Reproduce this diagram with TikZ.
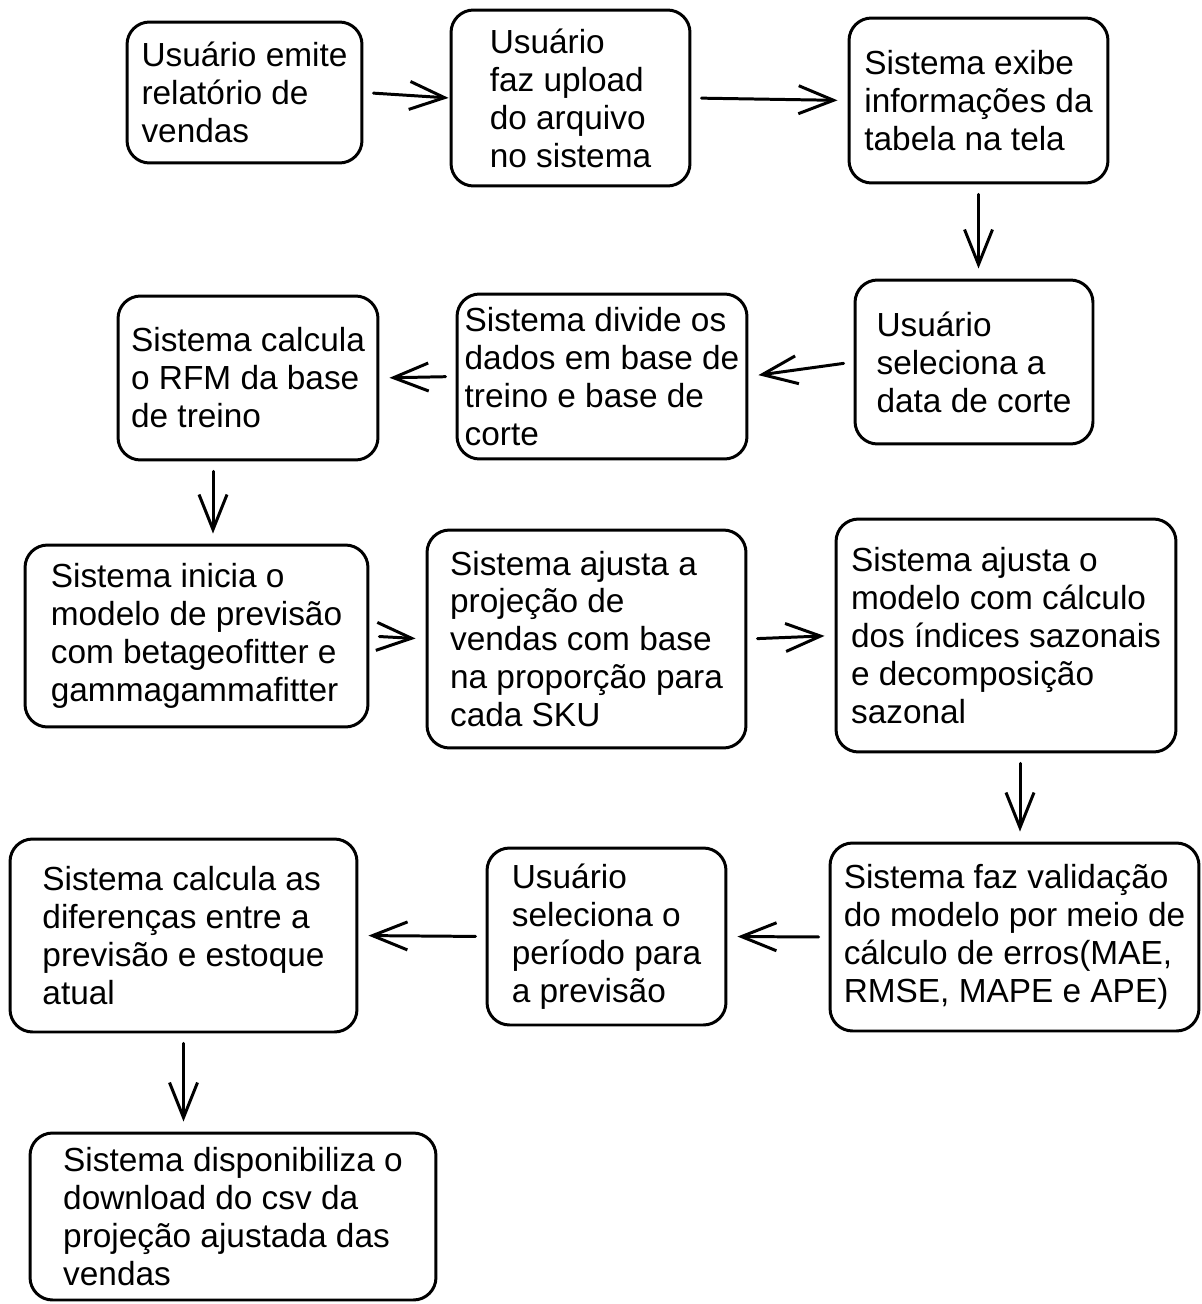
\documentclass[tikz,border=0pt]{standalone}
\usepackage{fontspec}
\setmainfont{Liberation Sans}
\usetikzlibrary{arrows.meta}
\begin{document}
\begin{tikzpicture}[x=0.02cm,y=-0.02cm,
  box/.style={draw=black, line width=1.7pt, rounded corners=0.45cm, align=left,
    inner sep=0pt, font=\fontsize{19pt}{21.6pt}\selectfont},
  arr/.style={draw=black, line width=1.7pt, line cap=round,
    -{Straight Barb[length=0.7cm,width=0.56cm,line width=1.7pt]},
    shorten <=0.2cm, shorten >=0.2cm}]
\fill[white] (0,0) rectangle (1201,1304);
\useasboundingbox (0,0) rectangle (1201,1304);

\node[box, minimum width=4.70cm, minimum height=2.82cm] (n1) at (244.5,92.5)
  {Usuário emite\\relatório de\\vendas};
\node[box, minimum width=4.78cm, minimum height=3.52cm] (n2) at (570.5,98)
  {Usuário\\faz upload\\do arquivo\\no sistema};
\node[box, minimum width=5.18cm, minimum height=3.30cm] (n3) at (978.5,100.5)
  {Sistema exibe\\informações da\\tabela na tela};
\node[box, minimum width=4.76cm, minimum height=3.28cm] (n4) at (974,362)
  {Usuário\\seleciona a\\data de corte};
\node[box, minimum width=5.80cm, minimum height=3.30cm] (n5) at (602,376.5)
  {Sistema divide os\\dados em base de\\treino e base de\\corte};
\node[box, minimum width=5.20cm, minimum height=3.28cm] (n6) at (248,378)
  {Sistema calcula\\o RFM da base\\de treino};
\node[box, minimum width=6.86cm, minimum height=3.64cm] (n7) at (196.5,636)
  {Sistema inicia o\\modelo de previsão\\com betageofitter e\\gammagammafitter};
\node[box, minimum width=6.38cm, minimum height=4.36cm] (n8) at (586.5,639)
  {Sistema ajusta a\\projeção de\\vendas com base\\na proporção para\\cada SKU};
\node[box, minimum width=6.80cm, minimum height=4.66cm] (n9) at (1006,635.5)
  {Sistema ajusta o\\modelo com cálculo\\dos índices sazonais\\e decomposição\\sazonal};
\node[box, minimum width=7.38cm, minimum height=3.76cm] (n10) at (1014.5,937)
  {Sistema faz validação\\do modelo por meio de\\cálculo de erros(MAE,\\RMSE, MAPE e APE)};
\node[box, minimum width=4.78cm, minimum height=3.54cm] (n11) at (606.5,936.5)
  {Usuário\\seleciona o\\período para\\a previsão};
\node[box, minimum width=6.94cm, minimum height=3.86cm] (n12) at (183.5,935.5)
  {Sistema calcula as\\diferenças entre a\\previsão e estoque\\atual};
\node[box, minimum width=8.12cm, minimum height=3.34cm] (n13) at (233,1216.5)
  {Sistema disponibiliza o\\download do csv da\\projeção ajustada das\\vendas};

\draw[arr, shorten >=0.02cm] (n1.east) -- (n2.west);
\draw[arr] (n2.east) -- (n3.west);
\draw[arr] (n3.south) -- (n3.south |- n4.north);
\draw[arr] (n4.west) -- (n5.east);
\draw[arr] (n5.west) -- (n6.east);
\draw[arr] ([xshift=-0.7cm]n6.south) -- ([xshift=-0.7cm]n6.south |- n7.north);
\draw[arr] (n7.east) -- (n8.west);
\draw[arr] (n8.east) -- (n9.west);
\draw[arr] ([xshift=0.28cm]n9.south) -- ([xshift=0.28cm]n9.south |- n10.north);
\draw[arr] (n10.west) -- (n11.east);
\draw[arr] (n11.west) -- (n12.east);
\draw[arr] (n12.south) -- (n12.south |- n13.north);
\end{tikzpicture}
\end{document}
